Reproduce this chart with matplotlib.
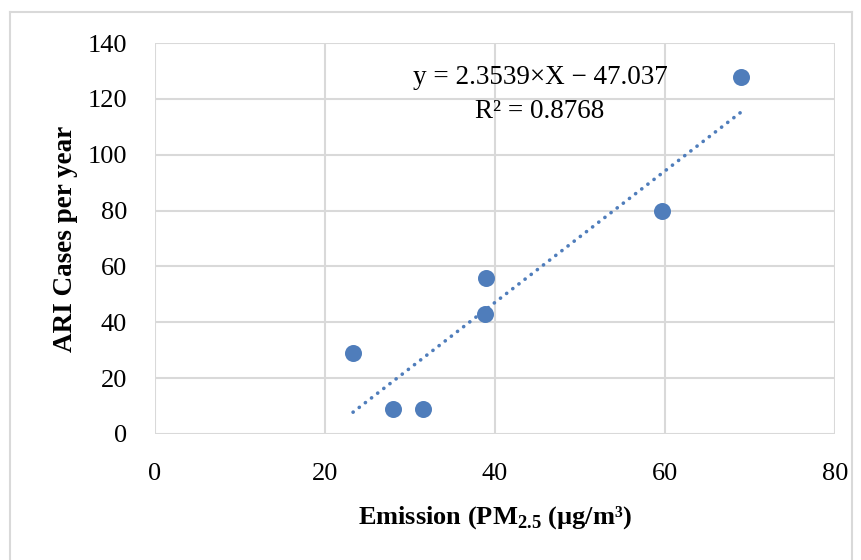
import matplotlib.pyplot as plt
import numpy as np
from matplotlib.lines import Line2D

# emission PM2.5 (ug/m3) vs ARI cases per year
emission = [23.3, 28.0, 31.5, 39.0, 38.8, 59.6, 68.9]
ari_cases = [29, 9, 9, 56, 43, 80, 128]

slope, intercept = 2.3539, -47.037
eq_text = "y = 2.3539×X − 47.037"
r2_text = "R² = 0.8768"

x_ticks = [0, 20, 40, 60, 80]
y_ticks = [0, 20, 40, 60, 80, 100, 120, 140]

point_color = "#4f7dbb"
grid_color = "#d9d9d9"
font = ["Liberation Serif", "DejaVu Serif"]

plt.rcParams['font.family'] = font
plt.rcParams['mathtext.fontset'] = 'custom'
plt.rcParams['mathtext.rm'] = 'Liberation Serif'
plt.rcParams['mathtext.bf'] = 'Liberation Serif:bold'

fig = plt.figure(figsize=(8.62, 5.6), dpi=100)
ax = fig.add_axes([155 / 862, 1 - 434 / 560, 680 / 862, 391 / 560])

# outer chart frame
for xs, ys in [([10, 10], [0, 548]), ([10, 852], [548, 548]), ([852, 852], [548, 0])]:
    fig.add_artist(Line2D(np.array(xs) / 862, np.array(ys) / 560,
                          color=grid_color, lw=1.5))

ax.set_xlim(0, 80)
ax.set_ylim(0, 140)
ax.set_xticks(x_ticks)
ax.set_yticks(y_ticks)
ax.tick_params(length=0, labelsize=19)
ax.tick_params(axis="y", pad=20)
ax.tick_params(axis="x", pad=21)
ax.grid(True, color=grid_color, lw=1.5)
ax.set_axisbelow(True)
for side in ["top", "right", "left", "bottom"]:
    ax.spines[side].set_visible(False)

# trendline
xt = np.array([min(emission), max(emission)])
ax.plot(xt, slope * xt + intercept, color=point_color, lw=2.6,
        linestyle=(0, (0.05, 2.1)), dash_capstyle="round", zorder=2)

ax.scatter(emission, ari_cases, s=150, color=point_color, zorder=3, linewidths=0)

ax.text(0.566, 0.913, eq_text, transform=ax.transAxes, ha="center", va="center", fontsize=19.5)
ax.text(0.566, 0.824, r2_text, transform=ax.transAxes, ha="center", va="center", fontsize=19.5)

ax.set_xlabel(r"Emission (PM$_{\mathbf{2.5}}$ (µg/m³)", fontsize=19, fontweight="bold", labelpad=14)
ax.set_ylabel("ARI Cases per year", fontsize=19.5, fontweight="bold", labelpad=7)

fig.savefig("out.png", dpi=100)
